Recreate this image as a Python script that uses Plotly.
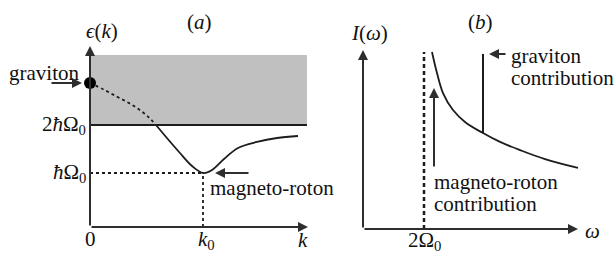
import plotly.graph_objects as go

# ---------------- data ----------------
# panel (a): dispersion epsilon(k); k in units of k0, energy in units of hbar*Omega0
k_dashed = [0.0, 0.12, 0.239, 0.35, 0.442, 0.52, 0.584]
eps_dashed = [2.875, 2.74, 2.59, 2.45, 2.31, 2.16, 2.0]
k_solid = [0.584, 0.681, 0.796, 0.903, 1.0, 1.080, 1.186, 1.310, 1.478, 1.655, 1.841]
eps_solid = [2.0, 1.729, 1.417, 1.146, 1.0, 1.063, 1.292, 1.521, 1.646, 1.729, 1.771]
gap_level = 2.0          # 2*hbar*Omega0
roton_level = 1.0        # hbar*Omega0
k0 = 1.0
shade_top = 3.46
k_end = 1.92
graviton_eps = 2.875

# panel (b): intensity I(omega); omega in units of Omega0
omega = [2.262, 2.426, 2.623, 2.951, 3.344, 3.934, 4.492, 5.148, 5.967, 7.049]
intensity = [1.0, 0.881, 0.768, 0.672, 0.605, 0.542, 0.492, 0.446, 0.395, 0.345]
omega_edge = 2.0
omega_graviton = 3.934
I_graviton = [0.542, 0.989]

INK = "#1c1c1c"
AX = "#2e2e2e"
FONT = "Liberation Serif, Times New Roman, serif"
FS = 21

fig = go.Figure()

# shaded continuum
fig.add_trace(go.Scatter(
    x=[0, k_end, k_end, 0, 0], y=[gap_level, gap_level, shade_top, shade_top, gap_level],
    fill="toself", fillcolor="#c0c0c0", line=dict(width=0), mode="lines",
    xaxis="x", yaxis="y", hoverinfo="skip"))
# 2 hbar Omega0 line
fig.add_trace(go.Scatter(x=[0, k_end], y=[gap_level, gap_level], mode="lines",
                         line=dict(color=INK, width=2), xaxis="x", yaxis="y"))
# dashed part of dispersion
fig.add_trace(go.Scatter(x=k_dashed, y=eps_dashed, mode="lines", line_shape="spline",
                         line=dict(color=INK, width=1.8, dash="3px,3px"), xaxis="x", yaxis="y"))
# solid dispersion
fig.add_trace(go.Scatter(x=k_solid, y=eps_solid, mode="lines", line_shape="spline",
                         line=dict(color=INK, width=1.8), xaxis="x", yaxis="y"))
# hbar Omega0 dashed guide lines
fig.add_trace(go.Scatter(x=[0, k0], y=[roton_level, roton_level], mode="lines",
                         line=dict(color=INK, width=1.8, dash="3px,3px"), xaxis="x", yaxis="y"))
fig.add_trace(go.Scatter(x=[k0, k0], y=[-0.125, roton_level], mode="lines",
                         line=dict(color=INK, width=1.8, dash="3px,3px"), xaxis="x", yaxis="y"))
# graviton dot
fig.add_trace(go.Scatter(x=[0], y=[graviton_eps], mode="markers",
                         marker=dict(color="black", size=12), xaxis="x", yaxis="y", cliponaxis=False))

# panel (b)
fig.add_trace(go.Scatter(x=[omega_edge, omega_edge], y=[0, 1.0], mode="lines",
                         line=dict(color=INK, width=2.5, dash="4px,3px"), xaxis="x2", yaxis="y2"))
fig.add_trace(go.Scatter(x=omega, y=intensity, mode="lines", line_shape="spline",
                         line=dict(color=INK, width=1.8), xaxis="x2", yaxis="y2"))
fig.add_trace(go.Scatter(x=[omega_graviton, omega_graviton], y=I_graviton, mode="lines",
                         line=dict(color=INK, width=2), xaxis="x2", yaxis="y2"))

ann = []

def arrow(x0, y0, x1, y1, xr, yr, w=2, size=1.0):
    ann.append(dict(x=x1, y=y1, ax=x0, ay=y0, xref=xr, yref=yr, axref=xr, ayref=yr,
                    text="", showarrow=True, arrowhead=2, arrowsize=size, arrowwidth=w,
                    arrowcolor=AX, standoff=0, startstandoff=0))

def label(x, y, t, xr, yr, xa="center", ya="middle", size=FS):
    ann.append(dict(x=x, y=y, text=t, xref=xr, yref=yr, xanchor=xa, yanchor=ya,
                    showarrow=False, font=dict(family=FONT, size=size, color="#111")))

# axes panel (a)
arrow(0, -0.125, 0, 3.646, "x", "y")
arrow(0, -0.125, 1.929, -0.125, "x", "y")
# axes panel (b)
arrow(0, 0, 0, 1.011, "x2", "y2")
arrow(0, 0, 7.05, 0, "x2", "y2")
# pointer arrows
arrow(-0.354, graviton_eps, -0.071, graviton_eps, "x", "y")
arrow(1.416, roton_level, 1.106, roton_level, "x", "y")
arrow(2.328, 0.345, 2.328, 0.797, "x2", "y2")
arrow(4.721, 0.989, 4.131, 0.989, "x2", "y2")

# labels panel (a)
label(0.106, 3.958, "<i>ϵ</i>(<i>k</i>)", "x", "y")
label(0.973, 4.146, "(<i>a</i>)", "x", "y")
label(-0.407, 3.083, "graviton", "x", "y")
label(-0.02, gap_level, "2<i>ħ</i>Ω<sub>0</sub>", "x", "y", xa="right")
label(-0.02, roton_level, "<i>ħ</i>Ω<sub>0</sub>", "x", "y", xa="right")
label(1.044, 0.6875, "magneto-roton", "x", "y", xa="left")
label(0.0, -0.38, "0", "x", "y")
label(k0 + 0.03, -0.40, "<i>k</i><sub>0</sub>", "x", "y")
label(1.885, -0.40, "<i>k</i>", "x", "y")

# labels panel (b)
label(0.197, 1.107, "<i>I</i>(<i>ω</i>)", "x2", "y2")
label(3.836, 1.169, "(<i>b</i>)", "x2", "y2")
label(2.03, -0.066, "2Ω<sub>0</sub>", "x2", "y2")
label(7.54, -0.01, "<i>ω</i>", "x2", "y2")
label(4.787, 0.98, "graviton", "x2", "y2", xa="left")
label(4.787, 0.855, "contribution", "x2", "y2", xa="left")
label(2.262, 0.266, "magneto-roton", "x2", "y2", xa="left")
label(2.262, 0.141, "contribution", "x2", "y2", xa="left")

ax_common = dict(visible=False, showgrid=False, zeroline=False, fixedrange=True)
fig.update_layout(
    width=616, height=253, autosize=False,
    margin=dict(l=0, r=0, t=0, b=0),
    paper_bgcolor="white", plot_bgcolor="rgba(0,0,0,0)",
    showlegend=False,
    xaxis=dict(domain=[0, 1], range=[-90 / 113, (616 - 90) / 113], anchor="y", **ax_common),
    yaxis=dict(domain=[0, 1], range=[-(253 - 221) / 48, 221 / 48], anchor="x", **ax_common),
    xaxis2=dict(domain=[0, 1], range=[-363 / 30.5, (616 - 363) / 30.5], anchor="y2", **ax_common),
    yaxis2=dict(domain=[0, 1], range=[-24 / 177, 229 / 177], anchor="x2", **ax_common),
    annotations=ann,
)

fig.write_html("out.html", config={"displayModeBar": False},
               post_script="document.body.style.margin='0px';")
